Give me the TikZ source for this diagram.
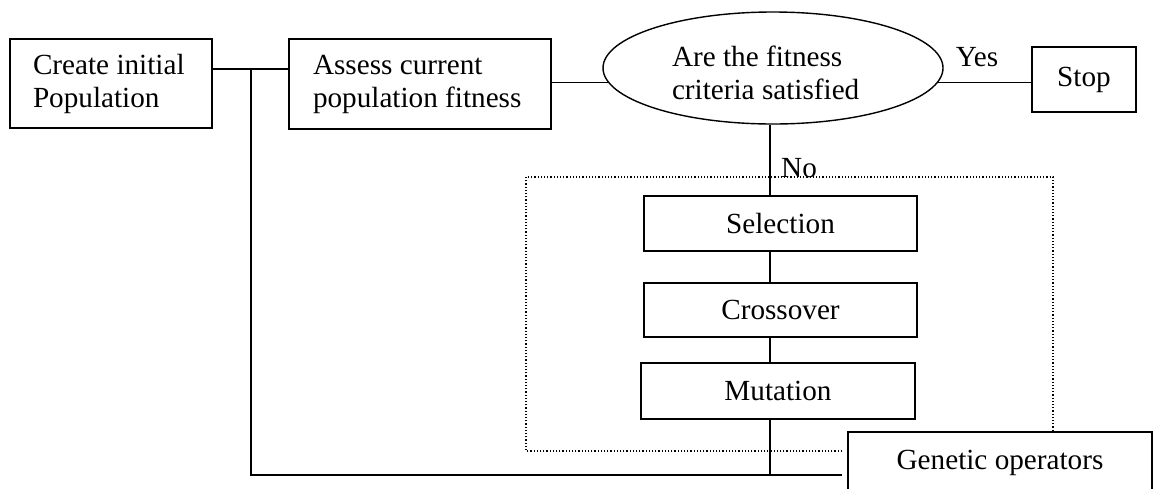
\documentclass[tikz,border=0pt]{standalone}
\usepackage{fontspec}
\setmainfont{Liberation Serif}
\usetikzlibrary{shapes.geometric}
\tikzset{
  box/.style={draw, line width=0.7pt, inner sep=0pt, fill=white, font=\fontsize{14.6}{16.5}\selectfont},
  lbl/.style={inner sep=0pt, font=\fontsize{14.6}{16.5}\selectfont},
  wire/.style={line width=0.7pt},
  opframe/.style={line width=0.6pt, dash pattern=on 0.6pt off 1pt},
}
\begin{document}
\begin{tikzpicture}[x=0.5pt, y=-0.5pt]
            \useasboundingbox (0,0) rectangle (1155,488);
            \coordinate (J) at (251,69);
            \coordinate (V) at (770,0);
            \coordinate (B) at (842,475);
            \coordinate (D1) at (526,177);
            \coordinate (D2) at (1053,451);

            \node[box, minimum width=101pt, minimum height=44.5pt, text width=78pt, align=flush left] (I) at (111,83.5) {Create initial\\Population};
            \node[box, minimum width=131pt, minimum height=45pt, text width=107pt, align=flush left] (A) at (420,84) {Assess current\\population fitness};
            \node[box, ellipse, minimum width=170pt, minimum height=56pt] (Q) at (773,68) {};
            \node[lbl, align=flush left, text width=98pt] (q) at (770,73) {Are the fitness\\criteria satisfied};
            \node[box, minimum width=52pt, minimum height=32.5pt] (T) at (1084,79.5) {Stop};
            \node[box, minimum width=136.5pt, minimum height=27.5pt] (S) at (780.5,223.5) {Selection};
            \node[box, minimum width=136.5pt, minimum height=27pt] (X) at (780.5,310) {Crossover};
            \node[box, minimum width=137pt, minimum height=28pt] (M) at (778,391) {Mutation};

            \node[lbl] (yes) at (977,57) {Yes};
            \node[lbl] (no) at (799,168) {No};

            \draw[wire] (I.east |- J) -- (A.west |- J);
            \draw[wire] (J) |- (B);
            \draw[wire] (A.east |- Q.185) -- (Q.185);
            \draw[wire] (Q.-5) -- (Q.-5 -| T.west);
            \draw[wire] (V |- Q.south) -- (V |- S.north);
            \draw[wire] (V |- S.south) -- (V |- X.north);
            \draw[wire] (V |- X.south) -- (V |- M.north);
            \draw[wire] (V |- M.south) -- (V |- B);

            \draw[opframe] (B |- D2) -- (D1 |- D2) -- (D1) -- (D1 -| D2) -- (D2);
            \node[box, minimum width=152pt, minimum height=31pt] (G) at (1000,463) {Genetic operators};
        \end{tikzpicture}
\end{document}
